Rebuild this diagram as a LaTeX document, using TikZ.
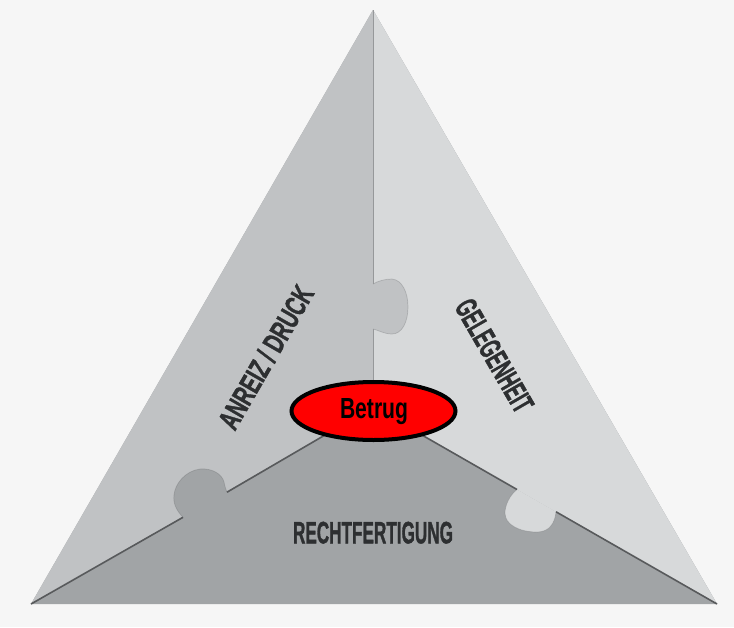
\documentclass[tikz,border=0pt]{standalone}
\usepackage{fontspec}
\setmainfont{Liberation Sans}
\newfontfamily\piecefont{Liberation Sans Bold}[FakeBold=1.6]
\usetikzlibrary{shapes.geometric}
\definecolor{bgc}{RGB}{246,246,246}
\definecolor{leftc}{RGB}{192,194,196}
\definecolor{rightc}{RGB}{215,217,218}
\definecolor{basec}{RGB}{161,164,166}
\definecolor{seam}{RGB}{88,90,92}
\definecolor{seamlight}{RGB}{150,152,154}
\definecolor{labelc}{RGB}{45,47,49}
\definecolor{fraudred}{RGB}{255,0,0}
\begin{document}
\begin{tikzpicture}[x=1pt,y=-1pt,
  piecetext/.style={text=labelc, inner sep=0pt, anchor=base, font=\piecefont},
  seamline/.style={draw=seam, line width=1.6pt},
  seamfaint/.style={draw=seamlight, line width=0.8pt},
  knobedge/.style={draw=seam, draw opacity=0.25, line width=0.7pt},
]
\fill[bgc] (0,0) rectangle (734,627);
\useasboundingbox (0,0) rectangle (734,627);

% corners of the triangle and the meeting point of the three pieces
\coordinate (A)  at (373,10);
\coordinate (BL) at (31,604);
\coordinate (BR) at (717,604);
\coordinate (O)  at (373,407);
% necks of the puzzle knobs
\coordinate (T1) at (373,284);
\coordinate (T2) at (373,329);
\coordinate (L1) at (183,517.3);
\coordinate (L2) at (227,492.2);
\coordinate (R1) at (517,489.5);
\coordinate (R2) at (556,511.8);

% pieces
\fill[basec]  (A) -- (BR) -- (BL) -- cycle;
\fill[leftc]  (A) -- (BR) -- (O) -- (BL) -- cycle;
\fill[rightc] (A) -- (BR) -- (O) -- cycle;

% knobs
\fill[rightc] (R1) .. controls (510,495) and (505,505) .. (505,513)
  .. controls (505,525) and (520,532) .. (537,532)
  .. controls (550,532) and (555,522) .. (R2) -- cycle;
\fill[leftc] (T1) .. controls (378,281) and (385,279) .. (392,279)
  .. controls (402,280) and (408,292) .. (408,307)
  .. controls (408,322) and (402,334) .. (392,334)
  .. controls (384,334) and (378,330) .. (T2) -- cycle;
\fill[basec] (L1) .. controls (176,510) and (173,503) .. (174,495)
  .. controls (175,484) and (185,471) .. (200,469)
  .. controls (212,468) and (222,474) .. (224,482)
  .. controls (225,487) and (226,490) .. (L2) -- cycle;

% knob outlines
\path[knobedge] (R1) .. controls (510,495) and (505,505) .. (505,513)
  .. controls (505,525) and (520,532) .. (537,532)
  .. controls (550,532) and (555,522) .. (R2);
\path[knobedge] (T1) .. controls (378,281) and (385,279) .. (392,279)
  .. controls (402,280) and (408,292) .. (408,307)
  .. controls (408,322) and (402,334) .. (392,334)
  .. controls (384,334) and (378,330) .. (T2);
\path[knobedge] (L1) .. controls (176,510) and (173,503) .. (174,495)
  .. controls (175,484) and (185,471) .. (200,469)
  .. controls (212,468) and (222,474) .. (224,482)
  .. controls (225,487) and (226,490) .. (L2);

% seams between the pieces
\draw[seamline] (BL) -- (L1);
\draw[seamline] (L2) -- (O);
\draw[seamline] (O) -- (R1);
\draw[seamline] (R2) -- (BR);
\draw[seamfaint] (A) -- (T1);
\draw[seamfaint] (T2) -- (O);

% piece labels
\node[piecetext, rotate=60]  (incentive)     at (274.9,362.4) {\resizebox{160pt}{21.6pt}{ANREIZ / DRUCK}};
\node[piecetext, rotate=-60] (opportunity)   at (485.2,360.9) {\resizebox{125pt}{21.6pt}{GELEGENHEIT}};
\node[piecetext]             (justification) at (373,543.3)   {\resizebox{160pt}{21.6pt}{RECHTFERTIGUNG}};

% centre ellipse
\node[ellipse, draw=black, fill=fraudred, line width=4pt,
      minimum width=164pt, minimum height=58pt, inner sep=0pt] (fraud) at (373.5,411) {};
\node[inner sep=0pt, anchor=base, font=\bfseries, text=black] (fraudlabel) at (374,418.3)
  {\resizebox{68pt}{20pt}{Betrug}};
\end{tikzpicture}
\end{document}
